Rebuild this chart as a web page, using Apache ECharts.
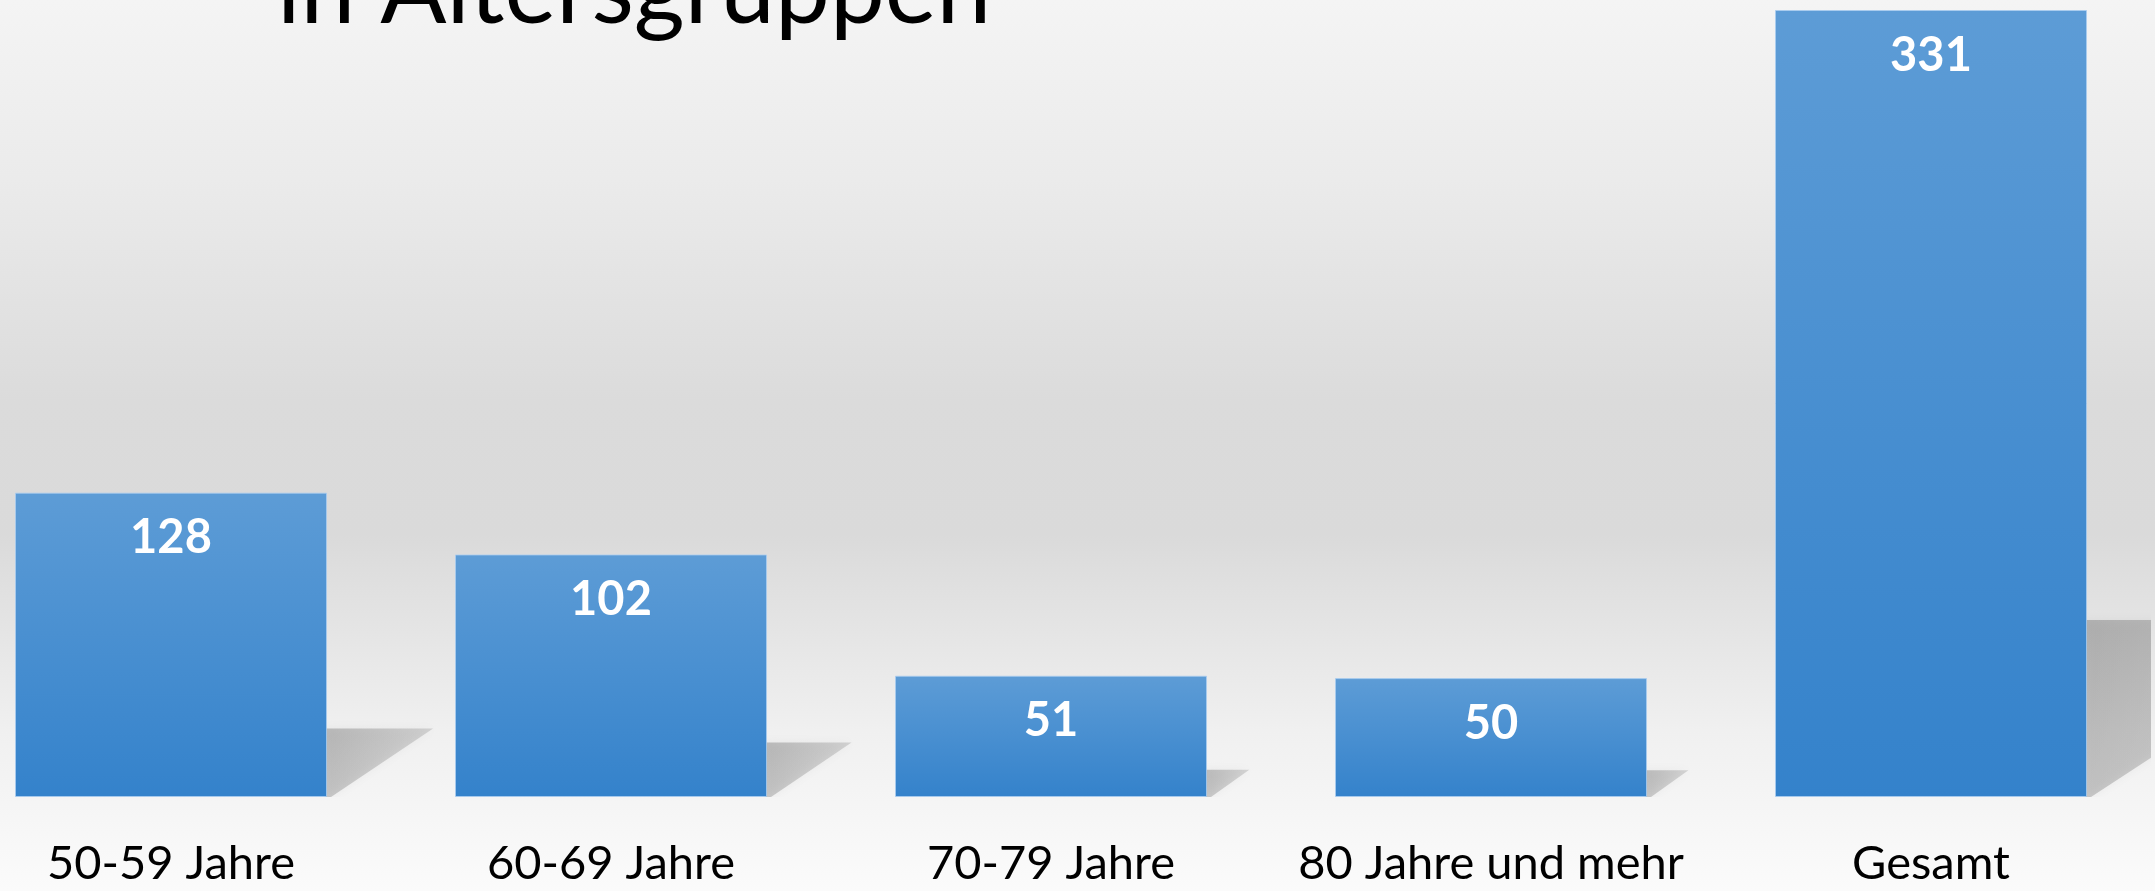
<!DOCTYPE html>
<html><head><meta charset="utf-8">
<script src="https://cdn.jsdelivr.net/npm/echarts@6/dist/echarts.min.js"></script>
<style>html,body{margin:0;padding:0;overflow:hidden;width:2155px;height:891px;}#c{position:absolute;left:-49px;top:0;width:2204px;height:891px;}</style>
</head><body><div id="c"></div>
<script>
const categories = ['50-59 Jahre', '60-69 Jahre', '70-79 Jahre', '80 Jahre und mehr', 'Gesamt'];
const values = [128, 102, 51, 50, 331];
const titleText = 'in Altersgruppen';

const BAR_W = 312;
const chart = echarts.init(document.getElementById('c'), null, {renderer: 'canvas'});
const G = echarts.graphic;

chart.setOption({
  backgroundColor: new G.LinearGradient(0, 0, 0, 1, [
    {offset: 0, color: '#f4f4f4'},
    {offset: 0.2, color: '#ebebeb'},
    {offset: 0.45, color: '#dbdbdb'},
    {offset: 0.6, color: '#dadada'},
    {offset: 0.82, color: '#f0f0f0'},
    {offset: 1, color: '#fbfbfb'}
  ]),
  animation: false,
  title: {
    text: titleText,
    left: 321,
    top: -63,
    textStyle: {fontFamily: 'Lato', fontWeight: 'normal', fontSize: 98, color: '#000'}
  },
  grid: {left: 0, right: 4, top: 10, bottom: 94, containLabel: false},
  xAxis: {
    type: 'category',
    data: categories,
    axisLine: {show: false},
    axisTick: {show: false},
    axisLabel: {fontFamily: 'Lato', fontSize: 47, color: '#000', margin: 43, interval: 0}
  },
  yAxis: {type: 'value', min: 0, max: 'dataMax', show: false, splitLine: {show: false}},
  series: [
    {
      type: 'custom',
      z: 1,
      clip: true,
      data: values.map((v, i) => [i, v]),
      renderItem: function (params, api) {
        const idx = api.value(0);
        const v = api.value(1);
        const base = api.coord([idx, 0]);
        const top = api.coord([idx, v]);
        const xr = base[0] + BAR_W / 2;
        const h = base[1] - top[1];
        const sh = h * 0.225;
        const sw = sh * 1.55;
        const y0 = base[1];
        return {
          type: 'polygon',
          shape: {points: [[xr - 2, y0], [xr - 2, y0 - sh], [xr + sw, y0 - sh], [xr + 4, y0]]},
          style: {
            fill: new G.LinearGradient(0, 0, 1, 1, [
              {offset: 0, color: 'rgba(80,80,80,0.32)'},
              {offset: 1, color: 'rgba(80,80,80,0.14)'}
            ]),
            shadowBlur: 8,
            shadowColor: 'rgba(80,80,80,0.25)'
          }
        };
      }
    },
    {
      type: 'bar',
      z: 2,
      data: values,
      barWidth: BAR_W,
      itemStyle: {
        color: new G.LinearGradient(0, 0, 0, 1, [
          {offset: 0, color: '#5d9cd6'},
          {offset: 1, color: '#3482cb'}
        ]),
        borderColor: 'rgba(170,205,240,0.8)',
        borderWidth: 1
      },
      label: {
        show: true,
        position: 'insideTop',
        distance: 22,
        color: '#fff',
        fontFamily: 'Lato',
        fontWeight: 'bold',
        fontSize: 47
      }
    }
  ]
});
</script></body></html>
